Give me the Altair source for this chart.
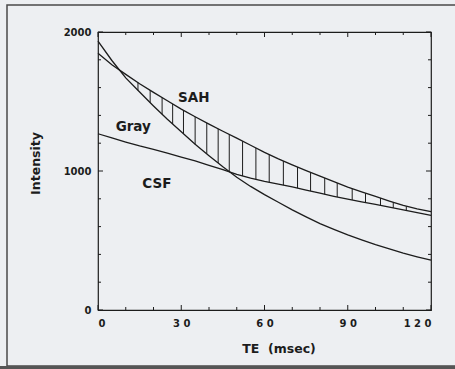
import altair as alt
import pandas as pd
import numpy as np

# ---- data ----
te = [0, 5, 10, 15, 20, 25, 30, 35, 40, 45, 50, 55, 60, 65, 70, 75, 80, 85, 90, 95, 100, 105, 110, 115, 120]
csf = [1935, 1795, 1670, 1568, 1468, 1372, 1282, 1192, 1110, 1030, 955, 889, 830, 775, 720, 670, 622, 580, 540, 505, 470, 440, 410, 383, 358]
gray = [1268, 1238, 1208, 1180, 1155, 1128, 1100, 1072, 1040, 1010, 975, 948, 925, 905, 885, 863, 840, 818, 798, 778, 760, 740, 720, 700, 681]
sah = [1847, 1765, 1695, 1628, 1566, 1505, 1445, 1390, 1337, 1286, 1236, 1185, 1134, 1087, 1044, 1003, 963, 923, 884, 850, 818, 784, 752, 728, 708]

hatch_te = [14.4, 18.8, 23.1, 26.9, 30.8, 35.0, 39.2, 43.3, 47.3, 52.1, 56.9, 61.7,
            66.8, 71.9, 76.6, 81.7, 86.2, 91.6, 96.4, 101.8, 106.4, 111.1]

label_text = ["SAH", "Gray", "CSF"]
label_te = [34.5, 12.7, 21.2]
label_int = [1496, 1286, 875]

x_tick_vals = list(range(0, 121, 10))
x_major = [0, 30, 60, 90, 120]
y_tick_vals = list(range(0, 2001, 200))
y_major = [0, 1000, 2000]

W, H = 333, 278
INK = "#1c1c1c"
FONT = "DejaVu Sans"

curves = pd.concat([
    pd.DataFrame({"te": te, "val": csf, "tissue": "CSF"}),
    pd.DataFrame({"te": te, "val": gray, "tissue": "Gray"}),
    pd.DataFrame({"te": te, "val": sah, "tissue": "SAH"}),
])

h_top = np.interp(hatch_te, te, sah)
h_bot = np.maximum(np.interp(hatch_te, te, csf), np.interp(hatch_te, te, gray))
hatch = pd.DataFrame({"te": hatch_te, "top": h_top, "bot": h_bot})

labels = pd.DataFrame({"te": label_te, "val": label_int, "text": label_text})

xs = alt.Scale(domain=[0, 120], nice=False, zero=False)
ys = alt.Scale(domain=[0, 2000], nice=False)

x_axis = alt.Axis(values=x_major, ticks=False, tickSize=0, domain=False, grid=False,
                  labelExpr="join(split(datum.label, ''), '\u00a0')",
                  labelFont=FONT, labelFontSize=10, labelFontWeight="bold", labelColor=INK,
                  labelPadding=8, labelBaseline="top",
                  title="TE\u00a0\u00a0(msec)", titleFont=FONT, titleFontSize=12.5, titleFontWeight="bold",
                  titleColor=INK, titleX=180.5, titleY=38, titleBaseline="middle", titleAlign="center")
y_axis = alt.Axis(values=y_major, format="d", ticks=False, tickSize=0, domain=False, grid=False,
                  labelFont=FONT, labelFontSize=10, labelFontWeight="bold", labelColor=INK,
                  labelPadding=7,
                  title="Intensity", titleFont=FONT, titleFontSize=12.5, titleFontWeight="bold",
                  titleColor=INK, titleAngle=270, titleX=-63, titleY=131,
                  titleBaseline="middle", titleAlign="center")

lines = alt.Chart(curves).mark_line(color=INK, strokeWidth=1.3).encode(
    x=alt.X("te:Q", scale=xs, axis=x_axis),
    y=alt.Y("val:Q", scale=ys, axis=y_axis),
    detail="tissue:N",
)

hatch_rules = alt.Chart(hatch).mark_rule(color=INK, strokeWidth=1.0).encode(
    x=alt.X("te:Q", scale=xs),
    y=alt.Y("top:Q", scale=ys),
    y2="bot:Q",
)

text = alt.Chart(labels).mark_text(font=FONT, fontSize=13.5, fontWeight="bold", color=INK,
                                   baseline="alphabetic", align="center").encode(
    x=alt.X("te:Q", scale=xs),
    y=alt.Y("val:Q", scale=ys),
    text="text:N",
)

xt_major = pd.DataFrame({"t": x_major})
xt_minor = pd.DataFrame({"t": [v for v in x_tick_vals if v not in x_major]})
yt_major = pd.DataFrame({"t": y_major})
yt_minor = pd.DataFrame({"t": [v for v in y_tick_vals if v not in y_major]})


def xticks(df, length):
    bottom = alt.Chart(df).mark_rule(color=INK, strokeWidth=1).encode(
        x=alt.X("t:Q", scale=xs), y=alt.value(H), y2=alt.value(H - length))
    top = alt.Chart(df).mark_rule(color=INK, strokeWidth=1).encode(
        x=alt.X("t:Q", scale=xs), y=alt.value(0), y2=alt.value(length))
    return [bottom, top]


def yticks(df, length):
    left = alt.Chart(df).mark_rule(color=INK, strokeWidth=1).encode(
        y=alt.Y("t:Q", scale=ys), x=alt.value(0), x2=alt.value(length))
    right = alt.Chart(df).mark_rule(color=INK, strokeWidth=1).encode(
        y=alt.Y("t:Q", scale=ys), x=alt.value(W), x2=alt.value(W - length))
    return [left, right]


one = pd.DataFrame({"k": [0]})
frame = alt.Chart(one).mark_rect(fill=None, stroke="#4a4a4a", strokeWidth=1.5).encode(
    x=alt.value(-91), x2=alt.value(W + 40), y=alt.value(-27), y2=alt.value(H + 56))
band = alt.Chart(one).mark_rect(fill="#555555").encode(
    x=alt.value(-98), x2=alt.value(W + 40), y=alt.value(H + 56), y2=alt.value(H + 62))

layers = [frame, band, hatch_rules, lines, text] + xticks(xt_major, 5) + xticks(xt_minor, 3) \
    + yticks(yt_major, 5) + yticks(yt_minor, 3)

chart = alt.layer(*layers).properties(
    width=W, height=H,
    autosize=alt.AutoSizeParams(type="none"),
    padding={"left": 98, "top": 32, "right": 24, "bottom": 59},
    background="#edeff2",
).configure_view(stroke=INK, strokeWidth=1.2)

chart.save("out.html", embed_options={"renderer": "svg", "actions": False})
